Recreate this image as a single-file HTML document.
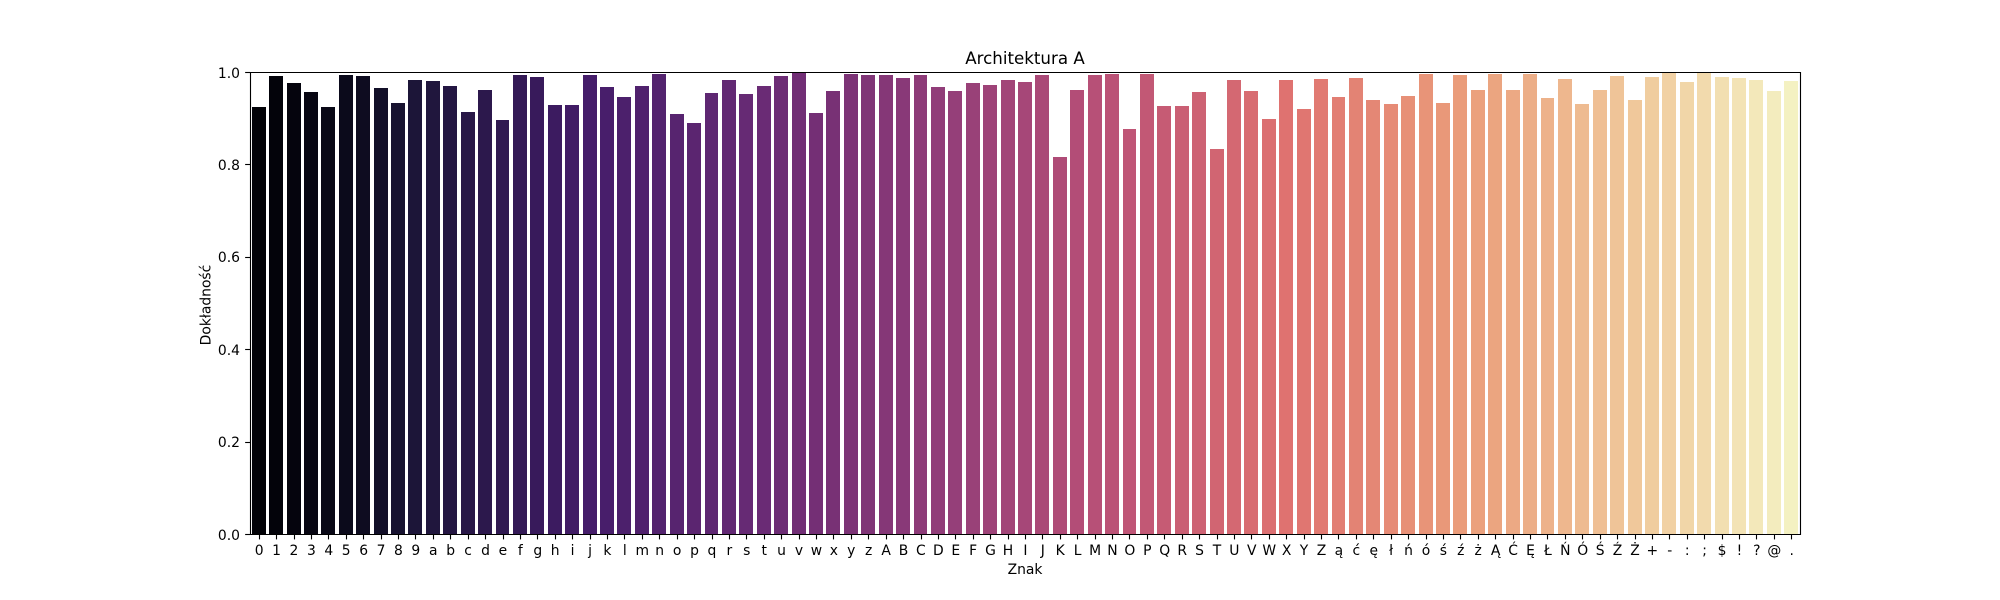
<!DOCTYPE html>
<html lang="pl">
<head>
<meta charset="utf-8">
<title>Architektura A</title>
<style>
html,body{margin:0;padding:0;background:#fff;}
svg{display:block;font-family:"DejaVu Sans","Liberation Sans",sans-serif;fill:#000;}
</style>
</head>
<body>
<svg id="chart" xmlns="http://www.w3.org/2000/svg" width="2000" height="600" viewBox="0 0 2000 600">
<rect x="0" y="0" width="2000" height="600" fill="#fff"/>
<g id="bars"></g>
<g id="ticks"></g>
<g stroke="#000" stroke-width="1.11" fill="none">
<line x1="250.5" y1="72" x2="250.5" y2="535"/>
<line x1="1800.5" y1="72" x2="1800.5" y2="535"/>
<line x1="250" y1="72.5" x2="1801" y2="72.5"/>
<line x1="250" y1="534.5" x2="1801" y2="534.5"/>
</g>
<text x="1025" y="64" text-anchor="middle" font-size="16.67">Architektura A</text>
<text x="1025" y="574" text-anchor="middle" font-size="13.89">Znak</text>
<text x="210.5" y="305" text-anchor="middle" font-size="13.89" transform="rotate(-90 210.5 305)">Dokładność</text>
</svg>
<script>
const categories = ["0","1","2","3","4","5","6","7","8","9",
"a","b","c","d","e","f","g","h","i","j","k","l","m","n","o","p","q","r","s","t","u","v","w","x","y","z",
"A","B","C","D","E","F","G","H","I","J","K","L","M","N","O","P","Q","R","S","T","U","V","W","X","Y","Z",
"ą","ć","ę","ł","ń","ó","ś","ź","ż","Ą","Ć","Ę","Ł","Ń","Ó","Ś","Ź","Ż",
"+","-",":",";","$","!","?","@","."];
const accuracy = [.9242,.9913,.9762,.9567,.9242,.9935,.9913,.9654,.9329,.9827,
.9805,.9697,.9134,.9610,.8961,.9935,.9892,.9286,.9286,.9935,.9675,.9459,.9697,.9957,.9091,.8896,.9545,.9827,.9524,.9697,.9913,1,.9113,.9589,.9957,.9935,
.9935,.9870,.9935,.9675,.9589,.9762,.9719,.9827,.9784,.9935,.8160,.9610,.9935,.9957,.8766,.9957,.9264,.9264,.9567,.8333,.9827,.9589,.8983,.9827,.9199,.9848,
.9459,.9870,.9394,.9307,.9481,.9957,.9329,.9935,.9610,.9957,.9610,.9957,.9437,.9848,.9307,.9610,.9913,.9394,
.9892,1,.9784,1,.9892,.9870,.9827,.9589,.9805];
const yTickValues = [0,0.2,0.4,0.6,0.8,1.0];
const yTickLabels = ["0.0","0.2","0.4","0.6","0.8","1.0"];
const magmaPositions = [0,0.0392,0.0784,1/9,2/9,3/9,4/9,5/9,6/9,7/9,8/9,1];
const magmaStops = ["#000004","#040311","#0b0924","#180f3e","#451077","#721f81","#9f2f7f","#cd4071","#f1605d","#fd9567","#fec98d","#fcfdbf"];

const NS = "http://www.w3.org/2000/svg";
const plotLeft = 250, plotRight = 1800, plotTop = 72, plotBottom = 534;
function xScale(pos){ return plotLeft + (pos + 0.5) * (plotRight - plotLeft) / categories.length; }
function yScale(v){ return plotBottom - v * (plotBottom - plotTop); }

function hexToRgb(h){ return [1,3,5].map(function(i){ return parseInt(h.substr(i,2),16)/255; }); }
function hue(p,q,t){
  if(t<0)t+=1; if(t>1)t-=1;
  if(t<1/6)return p+(q-p)*6*t;
  if(t<1/2)return q;
  if(t<2/3)return p+(q-p)*(2/3-t)*6;
  return p;
}
function desaturate(c,sat){
  const mx=Math.max(c[0],c[1],c[2]), mn=Math.min(c[0],c[1],c[2]), l=(mx+mn)/2, d=mx-mn;
  if(d===0) return c;
  let s=l>0.5?d/(2-mx-mn):d/(mx+mn), h;
  if(mx===c[0]) h=(c[1]-c[2])/d+(c[1]<c[2]?6:0);
  else if(mx===c[1]) h=(c[2]-c[0])/d+2;
  else h=(c[0]-c[1])/d+4;
  h/=6; s*=sat;
  const q=l<0.5?l*(1+s):l+s-l*s, p=2*l-q;
  return [hue(p,q,h+1/3),hue(p,q,h),hue(p,q,h-1/3)];
}
function barColor(i){
  const t=(i+1)/(categories.length+1);
  let k=0;
  while(k<magmaPositions.length-2 && t>magmaPositions[k+1]) k++;
  const f=(t-magmaPositions[k])/(magmaPositions[k+1]-magmaPositions[k]);
  const a=hexToRgb(magmaStops[k]), b=hexToRgb(magmaStops[k+1]);
  const c=desaturate([0,1,2].map(function(j){ return a[j]+(b[j]-a[j])*f; }),0.75);
  return "rgb("+c.map(function(v){ return Math.round(v*255); }).join(",")+")";
}

const barsGroup = document.getElementById("bars");
const ticksGroup = document.getElementById("ticks");

categories.forEach(function(label,i){
  const x0 = Math.round(xScale(i-0.4));
  const x1 = Math.round(xScale(i+0.4));
  const yTop = Math.round(yScale(accuracy[i]));
  const bar = document.createElementNS(NS,"rect");
  
  
  bar.setAttribute("x",x0);
  bar.setAttribute("y",yTop);
  bar.setAttribute("width",x1-x0);
  bar.setAttribute("height",plotBottom-yTop);
  bar.setAttribute("fill",barColor(i));
  bar.setAttribute("shape-rendering","crispEdges");
  barsGroup.appendChild(bar);

  const tx = Math.round(xScale(i))+0.5;
  const tick = document.createElementNS(NS,"line");
  
  
  tick.setAttribute("x1",tx);
  tick.setAttribute("x2",tx);
  tick.setAttribute("y1",plotBottom);
  tick.setAttribute("y2",plotBottom+5.4);
  tick.setAttribute("stroke","#000");
  tick.setAttribute("stroke-width","1.11");
  ticksGroup.appendChild(tick);

  const text = document.createElementNS(NS,"text");
  
  
  text.setAttribute("x",xScale(i)+0.4);
  text.setAttribute("y",555);
  text.setAttribute("text-anchor","middle");
  text.setAttribute("font-size","13.89");
  text.textContent = label;
  ticksGroup.appendChild(text);
});

yTickValues.forEach(function(v,i){
  const ty = Math.round(yScale(v))+0.5;
  const tick = document.createElementNS(NS,"line");
  
  
  tick.setAttribute("x1",plotLeft-4.86);
  tick.setAttribute("x2",plotLeft);
  tick.setAttribute("y1",ty);
  tick.setAttribute("y2",ty);
  tick.setAttribute("stroke","#000");
  tick.setAttribute("stroke-width","1.11");
  ticksGroup.appendChild(tick);

  const text = document.createElementNS(NS,"text");
  
  
  text.setAttribute("x",240);
  text.setAttribute("y",Math.round(yScale(v)+5.6));
  text.setAttribute("text-anchor","end");
  text.setAttribute("font-size","13.89");
  text.textContent = yTickLabels[i];
  ticksGroup.appendChild(text);
});
</script>
</body>
</html>
